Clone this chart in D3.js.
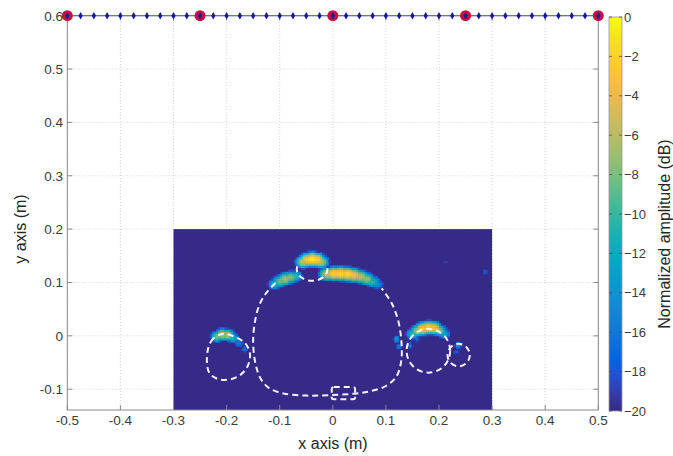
<!DOCTYPE html>
<html lang="en">
<head>
<meta charset="UTF-8">
<title>d3.js</title>
<script src="https://cdn.jsdelivr.net/npm/d3@7"></script>
<style>
body { margin: 0; background: #fff; }
text { font-family: "Liberation Sans", Arial, sans-serif; }
</style>
</head>
<body>
<div id="output"></div>

<script>

// array elements along the top (y = 0.6 m)
var elemX = [-0.5, -0.475, -0.45, -0.425, -0.4, -0.375, -0.35, -0.325, -0.3, -0.275,
             -0.25, -0.225, -0.2, -0.175, -0.15, -0.125, -0.1, -0.075, -0.05, -0.025,
             0, 0.025, 0.05, 0.075, 0.1, 0.125, 0.15, 0.175, 0.2, 0.225,
             0.25, 0.275, 0.3, 0.325, 0.35, 0.375, 0.4, 0.425, 0.45, 0.475, 0.5];
var antX = [-0.5, -0.25, 0, 0.25, 0.5];
var arrayY = 0.6;

var xTicks = [-0.5, -0.4, -0.3, -0.2, -0.1, 0, 0.1, 0.2, 0.3, 0.4, 0.5];
var yTicks = [-0.1, 0, 0.1, 0.2, 0.3, 0.4, 0.5, 0.6];
var cbTicks = [0, -2, -4, -6, -8, -10, -12, -14, -16, -18, -20];

// imaged area (m)
var imgX = [-0.3, 0.3];
var imgY = [-0.14, 0.2];

// bright spots: [x, y, peak dB, spread x, spread y]
var spotsTopCircle = [
    [-0.056, 0.139, -5, 0.009, 0.0075],
    [-0.047, 0.143, -1.5, 0.009, 0.0075],
    [-0.039, 0.144, 0, 0.009, 0.0075],
    [-0.030, 0.143, -1.5, 0.009, 0.0075],
    [-0.022, 0.139, -5, 0.009, 0.0075]
];
var spotsLeftArc = [
    [-0.110, 0.097, -11, 0.009, 0.0075],
    [-0.100, 0.103, -8, 0.009, 0.0075],
    [-0.090, 0.107, -6, 0.009, 0.0075],
    [-0.080, 0.110, -7, 0.009, 0.0075],
    [-0.070, 0.112, -10, 0.009, 0.0075]
];
var spotsRightArc = [
    [-0.010, 0.116, -5, 0.010, 0.0075],
    [0.002, 0.117, -2, 0.010, 0.0075],
    [0.015, 0.117, -1, 0.010, 0.0075],
    [0.028, 0.116, -1.5, 0.010, 0.0075],
    [0.040, 0.114, -3, 0.010, 0.0075],
    [0.052, 0.111, -5, 0.010, 0.0075],
    [0.064, 0.107, -7, 0.010, 0.0075],
    [0.075, 0.102, -10, 0.010, 0.0075],
    [0.084, 0.097, -14, 0.010, 0.0075]
];
var spotsLeftShape = [
    [-0.218, -0.001, -8, 0.008, 0.007],
    [-0.208, 0.003, -5, 0.008, 0.007],
    [-0.198, 0.002, -6, 0.008, 0.007],
    [-0.188, -0.004, -11, 0.008, 0.007],
    [-0.177, -0.013, -15, 0.008, 0.007]
];
var spotsRightCircle = [
    [0.150, 0.004, -10, 0.009, 0.007],
    [0.160, 0.010, -6, 0.009, 0.007],
    [0.170, 0.014, -2, 0.009, 0.007],
    [0.180, 0.016, -1, 0.009, 0.007],
    [0.190, 0.015, -2.5, 0.009, 0.007],
    [0.200, 0.011, -7, 0.009, 0.007],
    [0.210, 0.004, -12, 0.009, 0.007]
];
var spotsWeak = [
    [0.120, -0.006, -13, 0.005, 0.006],
    [0.124, -0.020, -15, 0.005, 0.005],
    [0.145, -0.018, -15, 0.005, 0.005],
    [0.158, -0.006, -16, 0.005, 0.005],
    [0.236, -0.018, -14, 0.006, 0.005],
    [0.232, -0.030, -17, 0.005, 0.005],
    [-0.166, -0.025, -15, 0.005, 0.005],
    [-0.175, -0.013, -16, 0.005, 0.005],
    [0.287, 0.120, -16, 0.004, 0.005],
    [0.212, 0.138, -18, 0.004, 0.004],
    [0.276, 0.112, -18, 0.004, 0.004]
];

// dashed target outlines
var bigShape = [[-0.108, 0.099], [-0.124, 0.082], [-0.137, 0.061], [-0.146, 0.030],
    [-0.150, -0.010], [-0.146, -0.050], [-0.136, -0.080], [-0.120, -0.098],
    [-0.093, -0.108], [-0.050, -0.112], [-0.005, -0.111], [0.045, -0.108],
    [0.070, -0.104], [0.100, -0.094], [0.120, -0.076], [0.129, -0.046],
    [0.129, -0.008], [0.123, 0.029], [0.111, 0.061], [0.092, 0.089]];
var leftShape = [[-0.206, 0.004], [-0.225, -0.005], [-0.234, -0.021], [-0.237, -0.050],
    [-0.232, -0.070], [-0.216, -0.081], [-0.196, -0.082], [-0.175, -0.074],
    [-0.160, -0.056], [-0.156, -0.033], [-0.165, -0.014], [-0.182, -0.003]];
var circles = [[0.180, -0.028, 0.041], [0.237, -0.036, 0.021]];
var topCircle = [-0.039, 0.125, 0.029, 0.022];
var box = [-0.002, -0.119, 0.042, -0.096];

// parula colormap
var parula = ["#352a87", "#353dad", "#2053d4", "#0363e1", "#0d75dc", "#1485d4", "#0998d1",
              "#06a7c6", "#15b1b4", "#38b99e", "#65be86", "#92bf73", "#b7bd64", "#d9ba56",
              "#f8bb44", "#ffc337", "#fcce2e", "#f5de21", "#f9fb0e"];
var parulaIdx = [1, 4, 7, 9, 13, 17, 21, 25, 29, 33, 37, 41, 45, 49, 53, 55, 57, 60, 64];

var w = 673, h = 456;
var svg = d3.select("#output")
    .append("svg")
    .attr("width", w)
    .attr("height", h)
    .style("background-color", "#ffffff");

var x = d3.scaleLinear().domain([-0.5, 0.5]).range([67.3, 598.3]);
var y = d3.scaleLinear().domain([-0.139, 0.6]).range([410, 15.7]);

var color = d3.scaleLinear()
    .domain(parulaIdx.map(function(i) { return -20 + 20 * (i - 1) / 63; }))
    .range(parula)
    .clamp(true);

var defs = svg.append("defs");
defs.append("clipPath").attr("id", "plotclip")
    .append("rect")
    .attr("x", x(-0.5)).attr("y", y(0.6))
    .attr("width", x(0.5) - x(-0.5)).attr("height", y(-0.139) - y(0.6));

// grid
var grid = svg.append("g");
grid.selectAll("line.gx").data(xTicks).enter().append("line")
    .attr("x1", function(d) { return x(d); }).attr("x2", function(d) { return x(d); })
    .attr("y1", y(-0.139)).attr("y2", y(0.6))
    .attr("stroke", "#d4d4d4").attr("stroke-dasharray", "1,2");
grid.selectAll("line.gy").data(yTicks).enter().append("line")
    .attr("y1", function(d) { return y(d); }).attr("y2", function(d) { return y(d); })
    .attr("x1", x(-0.5)).attr("x2", x(0.5))
    .attr("stroke", "#d4d4d4").attr("stroke-dasharray", "1,2");

// image
var allSpots = [].concat(spotsTopCircle, spotsLeftArc, spotsRightArc,
                         spotsLeftShape, spotsRightCircle, spotsWeak);
function dbAt(px, py) {
    var v = -40;
    allSpots.forEach(function(s) {
        var dx = (px - s[0]) / s[3], dy = (py - s[1]) / s[4];
        var d = s[2] - 4.343 * (dx * dx + dy * dy);
        if (d > v) v = d;
    });
    return Math.max(-20, Math.min(0, v));
}

var step = 0.004;
var cells = [];
d3.range(imgX[0], imgX[1] - 1e-9, step).forEach(function(cx) {
    d3.range(imgY[0], imgY[1] - 1e-9, step).forEach(function(cy) {
        var v = dbAt(cx + step / 2, cy + step / 2);
        if (v > -19.8) cells.push({x: cx, y: cy, v: v});
    });
});

var img = svg.append("g").attr("clip-path", "url(#plotclip)");
img.append("rect")
    .attr("x", x(imgX[0])).attr("y", y(imgY[1]))
    .attr("width", x(imgX[1]) - x(imgX[0]))
    .attr("height", y(imgY[0]) - y(imgY[1]))
    .attr("fill", color(-20));
img.selectAll("rect.c").data(cells).enter().append("rect")
    .attr("x", function(d) { return x(d.x); })
    .attr("y", function(d) { return y(d.y + step); })
    .attr("width", x(step) - x(0) + 0.4)
    .attr("height", y(0) - y(step) + 0.4)
    .attr("fill", function(d) { return color(d.v); });

// outlines
var outl = svg.append("g")
    .attr("fill", "none")
    .attr("stroke", "#f4f2fb")
    .attr("stroke-width", 2)
    .attr("stroke-dasharray", "6,4");
var line = d3.line().x(function(d) { return x(d[0]); }).y(function(d) { return y(d[1]); });
outl.append("path").attr("d", line.curve(d3.curveCatmullRom)(bigShape));
outl.append("path").attr("d", line.curve(d3.curveCatmullRomClosed)(leftShape));
outl.selectAll("ellipse").data(circles).enter().append("ellipse")
    .attr("cx", function(d) { return x(d[0]); })
    .attr("cy", function(d) { return y(d[1]); })
    .attr("rx", function(d) { return x(d[2]) - x(0); })
    .attr("ry", function(d) { return y(0) - y(d[2]); });
var trx = x(topCircle[2]) - x(0), tr_y = y(0) - y(topCircle[3]);
outl.append("path")
    .attr("d", "M" + (x(topCircle[0]) - trx * 0.97) + "," + (y(topCircle[1]) - tr_y * 0.25) +
        " A" + trx + "," + tr_y + " 0 1 0 " + (x(topCircle[0]) + trx * 0.97) + "," + (y(topCircle[1]) - tr_y * 0.25));
outl.append("rect")
    .attr("x", x(box[0])).attr("y", y(box[3]))
    .attr("width", x(box[2]) - x(box[0])).attr("height", y(box[1]) - y(box[3]))
    .attr("rx", 2);

// axes box + ticks
var ax = svg.append("g").attr("stroke", "#8a8a8a").attr("fill", "none");
ax.append("rect")
    .attr("x", x(-0.5)).attr("y", y(0.6))
    .attr("width", x(0.5) - x(-0.5)).attr("height", y(-0.139) - y(0.6));
xTicks.forEach(function(t) {
    ax.append("line").attr("x1", x(t)).attr("x2", x(t)).attr("y1", y(-0.139)).attr("y2", y(-0.139) - 5);
    ax.append("line").attr("x1", x(t)).attr("x2", x(t)).attr("y1", y(0.6)).attr("y2", y(0.6) + 5);
});
yTicks.forEach(function(t) {
    ax.append("line").attr("x1", x(-0.5)).attr("x2", x(-0.5) + 5).attr("y1", y(t)).attr("y2", y(t));
    ax.append("line").attr("x1", x(0.5)).attr("x2", x(0.5) - 5).attr("y1", y(t)).attr("y2", y(t));
});

svg.append("g").selectAll("text").data(xTicks).enter().append("text")
    .attr("x", function(d) { return x(d); })
    .attr("y", 425)
    .attr("text-anchor", "middle")
    .attr("font-size", "13.5px")
    .attr("fill", "#3c3c3c")
    .text(function(d) { return d === 0 ? "0" : String(d); });
svg.append("g").selectAll("text").data(yTicks).enter().append("text")
    .attr("x", 63)
    .attr("y", function(d) { return y(d) + 5; })
    .attr("text-anchor", "end")
    .attr("font-size", "13.5px")
    .attr("fill", "#3c3c3c")
    .text(function(d) { return d === 0 ? "0" : String(d); });

svg.append("text")
    .attr("x", 333).attr("y", 449)
    .attr("text-anchor", "middle")
    .attr("font-size", "16px")
    .attr("fill", "#262626")
    .text("x axis (m)");
svg.append("text")
    .attr("transform", "translate(26,229) rotate(-90)")
    .attr("text-anchor", "middle")
    .attr("font-size", "16px")
    .attr("fill", "#262626")
    .text("y axis (m)");

// transmit/receive array
var arr = svg.append("g");
arr.append("line")
    .attr("x1", x(-0.5)).attr("x2", x(0.5))
    .attr("y1", y(arrayY)).attr("y2", y(arrayY))
    .attr("stroke", "#5b63d8").attr("stroke-width", 1);
arr.selectAll("circle").data(antX).enter().append("circle")
    .attr("cx", function(d) { return x(d); })
    .attr("cy", y(arrayY))
    .attr("r", 5.5)
    .attr("fill", "#c8103c");
arr.selectAll("path").data(elemX).enter().append("path")
    .attr("d", d3.symbol().type(d3.symbolDiamond).size(16))
    .attr("transform", function(d) { return "translate(" + x(d) + "," + y(arrayY) + ")"; })
    .attr("fill", "#1616a8");

// colorbar
var cb = d3.scaleLinear().domain([-20, 0]).range([411, 17]);
var cbX = 609, cbW = 13;
var grad = defs.append("linearGradient").attr("id", "cbgrad")
    .attr("x1", 0).attr("x2", 0).attr("y1", 1).attr("y2", 0);
grad.selectAll("stop").data(parulaIdx).enter().append("stop")
    .attr("offset", function(d) { return (d - 1) / 63; })
    .attr("stop-color", function(d, i) { return parula[i]; });
svg.append("rect")
    .attr("x", cbX).attr("y", cb(0))
    .attr("width", cbW).attr("height", cb(-20) - cb(0))
    .attr("fill", "url(#cbgrad)")
    .attr("stroke", "#9a9a9a").attr("stroke-width", 0.8);
var cbt = svg.append("g").attr("stroke", "#444").attr("stroke-opacity", 0.7);
cbTicks.forEach(function(t) {
    cbt.append("line").attr("x1", cbX).attr("x2", cbX + 3).attr("y1", cb(t)).attr("y2", cb(t));
    cbt.append("line").attr("x1", cbX + cbW - 3).attr("x2", cbX + cbW).attr("y1", cb(t)).attr("y2", cb(t));
});
svg.append("g").selectAll("text").data(cbTicks).enter().append("text")
    .attr("x", 624)
    .attr("y", function(d) { return cb(d); })
    .attr("dy", "0.36em")
    .attr("font-size", "13px")
    .attr("fill", "#3c3c3c")
    .text(function(d) { return d === 0 ? "0" : "\u2212" + Math.abs(d); });
svg.append("text")
    .attr("transform", "translate(670,234) rotate(-90)")
    .attr("text-anchor", "middle")
    .attr("font-size", "16px")
    .attr("fill", "#262626")
    .text("Normalized amplitude (dB)");

</script>
</body>
</html>
